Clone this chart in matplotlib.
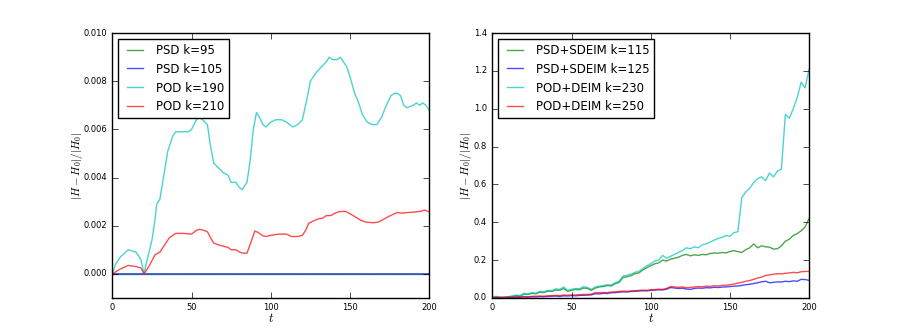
import numpy as np
import matplotlib

matplotlib.use("Agg")
import matplotlib.pyplot as plt

plt.style.use("classic")

# ---- left panel: PSD / POD ----
t_psd = [0, 20, 40, 60, 80, 100, 120, 140, 160, 180, 200]
psd95 = [0, 0, 0, 0, 0, 0, 0, 0, 0, 0, 0]
psd105 = [0, 0, -1e-6, 0, -1e-6, 0, -1e-6, 0, -1e-6, 0, -1e-6]

t_pod190 = [0, 2, 5, 10, 15, 18, 20, 22, 25, 27, 28, 30, 33, 35, 38, 40, 45,
            48, 50, 53, 55, 57, 60, 62, 64, 67, 70, 73, 75, 78, 80, 82, 85,
            87, 89, 91, 93, 95, 97, 100, 103, 107, 110, 112, 114, 117, 120,
            123, 125, 128, 132, 135, 137, 139, 142, 144, 146, 148, 150, 153,
            155, 158, 161, 164, 167, 170, 173, 176, 178, 180, 182, 184, 186,
            190, 192, 194, 196, 198, 200]
pod190 = [0, 0.0004, 0.0007, 0.0010, 0.0009, 0.0006, 0.0000, 0.0006, 0.0014,
          0.0023, 0.0029, 0.0031, 0.0043, 0.0051, 0.0057, 0.0059, 0.0059,
          0.0059, 0.0060, 0.0064, 0.0065, 0.0064, 0.0062, 0.0053, 0.0046,
          0.0044, 0.0042, 0.0041, 0.0038, 0.0038, 0.0036, 0.0035, 0.0038,
          0.0047, 0.0060, 0.0067, 0.0065, 0.0062, 0.0061, 0.0063, 0.0064,
          0.0064, 0.0063, 0.0062, 0.0061, 0.0062, 0.0064, 0.0073, 0.0080,
          0.0083, 0.0086, 0.0088, 0.0090, 0.0089, 0.0089, 0.0090, 0.0088,
          0.0086, 0.0082, 0.0075, 0.0072, 0.0066, 0.0063, 0.0062, 0.0062,
          0.0065, 0.0070, 0.0074, 0.0075, 0.0075, 0.0074, 0.0070, 0.0069,
          0.0070, 0.0071, 0.0070, 0.0071, 0.0070, 0.0068]

t_pod210 = [0, 5, 10, 15, 18, 20, 23, 27, 30, 33, 36, 40, 45, 50, 53, 55, 58,
            60, 62, 64, 67, 70, 73, 75, 78, 80, 82, 85, 88, 90, 92, 95, 97,
            100, 105, 110, 113, 117, 120, 122, 124, 127, 130, 133, 135, 138,
            140, 143, 147, 150, 153, 157, 160, 165, 168, 170, 175, 180, 183,
            187, 190, 195, 197, 200]
pod210 = [0, 0.00020, 0.00035, 0.00030, 0.00025, 0.0, 0.00030, 0.00080,
          0.00090, 0.00120, 0.00150, 0.00168, 0.00168, 0.00165, 0.00180,
          0.00185, 0.00180, 0.00175, 0.00150, 0.00128, 0.00120, 0.00115,
          0.00110, 0.00100, 0.00100, 0.00092, 0.00086, 0.00086, 0.00140,
          0.00178, 0.00172, 0.00158, 0.00155, 0.00160, 0.00165, 0.00165,
          0.00155, 0.00155, 0.00160, 0.00180, 0.00210, 0.00220, 0.00228,
          0.00232, 0.00242, 0.00242, 0.00250, 0.00258, 0.00260, 0.00250,
          0.00238, 0.00222, 0.00215, 0.00212, 0.00215, 0.00222, 0.00240,
          0.00255, 0.00252, 0.00255, 0.00256, 0.00260, 0.00265, 0.00258]

# ---- right panel: hyper-reduced models ----
t_hr = list(np.arange(0, 200.1, 2.5))
sdeim115 = [0.003, 0.006, 0.003, 0.002, 0.005, 0.008, 0.012, 0.010, 0.020,
            0.018, 0.024, 0.022, 0.030, 0.028, 0.036, 0.034, 0.042, 0.040,
            0.050, 0.035, 0.040, 0.045, 0.043, 0.052, 0.050, 0.040, 0.052,
            0.058, 0.060, 0.065, 0.063, 0.075, 0.082, 0.108, 0.112, 0.118,
            0.128, 0.132, 0.148, 0.160, 0.170, 0.180, 0.185, 0.200, 0.195,
            0.205, 0.210, 0.215, 0.225, 0.230, 0.222, 0.228, 0.225, 0.230,
            0.228, 0.235, 0.238, 0.236, 0.240, 0.238, 0.245, 0.250, 0.245,
            0.240, 0.255, 0.265, 0.285, 0.265, 0.275, 0.270, 0.268, 0.258,
            0.260, 0.275, 0.300, 0.310, 0.330, 0.340, 0.355, 0.375, 0.420]
sdeim125 = [0.000, 0.002, 0.001, 0.002, 0.003, 0.002, 0.004, 0.003, 0.005,
            0.004, 0.006, 0.005, 0.007, 0.006, 0.008, 0.009, 0.010, 0.008,
            0.011, 0.010, 0.012, 0.011, 0.013, 0.014, 0.015, 0.016, 0.022,
            0.021, 0.024, 0.023, 0.027, 0.028, 0.030, 0.032, 0.031, 0.034,
            0.035, 0.036, 0.038, 0.037, 0.040, 0.041, 0.043, 0.042, 0.046,
            0.055, 0.052, 0.050, 0.051, 0.047, 0.045, 0.050, 0.052, 0.051,
            0.054, 0.053, 0.056, 0.055, 0.057, 0.058, 0.060, 0.062, 0.063,
            0.066, 0.070, 0.072, 0.076, 0.080, 0.085, 0.088, 0.080, 0.082,
            0.085, 0.084, 0.088, 0.086, 0.090, 0.088, 0.098, 0.097, 0.093]
deim230 = [0.005, 0.008, 0.004, 0.003, 0.006, 0.010, 0.015, 0.012, 0.025,
           0.020, 0.028, 0.024, 0.035, 0.032, 0.040, 0.038, 0.048, 0.045,
           0.058, 0.040, 0.045, 0.050, 0.048, 0.060, 0.055, 0.045, 0.058,
           0.062, 0.065, 0.070, 0.068, 0.080, 0.088, 0.115, 0.120, 0.125,
           0.135, 0.140, 0.155, 0.170, 0.180, 0.195, 0.200, 0.225, 0.210,
           0.220, 0.230, 0.240, 0.250, 0.265, 0.260, 0.270, 0.265, 0.280,
           0.285, 0.295, 0.305, 0.315, 0.320, 0.330, 0.325, 0.345, 0.350,
           0.530, 0.560, 0.580, 0.610, 0.630, 0.640, 0.620, 0.660, 0.640,
           0.670, 0.680, 0.970, 0.950, 1.000, 1.060, 1.140, 1.110, 1.210]
deim250 = [0.000, 0.002, 0.002, 0.003, 0.004, 0.003, 0.005, 0.006, 0.007,
           0.006, 0.008, 0.009, 0.010, 0.009, 0.011, 0.012, 0.013, 0.012,
           0.015, 0.014, 0.016, 0.015, 0.017, 0.018, 0.018, 0.020, 0.028,
           0.027, 0.029, 0.028, 0.031, 0.032, 0.034, 0.036, 0.035, 0.037,
           0.038, 0.040, 0.041, 0.040, 0.043, 0.044, 0.046, 0.045, 0.050,
           0.060, 0.058, 0.056, 0.058, 0.054, 0.055, 0.058, 0.060, 0.059,
           0.062, 0.061, 0.064, 0.063, 0.066, 0.067, 0.070, 0.073, 0.078,
           0.082, 0.088, 0.092, 0.098, 0.105, 0.110, 0.118, 0.122, 0.125,
           0.128, 0.127, 0.130, 0.132, 0.135, 0.133, 0.138, 0.140, 0.140]

YLABEL = r"$|H - H_0|/|H_0|$"


def style(ax, ylab_x):
    ax.tick_params(labelsize=6)
    ax.set_xlabel(r"$t$", fontsize=9, labelpad=0)
    ax.set_ylabel(YLABEL, fontsize=8)
    ax.yaxis.set_label_coords(ylab_x, 0.5)
    ax.set_xlim(0, 200)
    ax.legend(loc="upper left", fontsize=8.5, handlelength=2.0)


fig, (ax1, ax2) = plt.subplots(1, 2, figsize=(8.99, 3.31), dpi=100)

ax1.plot(t_psd, psd95, color="g", alpha=0.7, label="PSD k=95")
ax1.plot(t_psd, psd105, color="b", alpha=0.7, label="PSD k=105")
ax1.plot(t_pod190, pod190, color="c", alpha=0.7, label="POD k=190")
ax1.plot(t_pod210, pod210, color="r", alpha=0.7, label="POD k=210")
ax1.set_ylim(-0.001, 0.010)
ax1.set_yticks([0.000, 0.002, 0.004, 0.006, 0.008, 0.010])
style(ax1, -0.088)

ax2.plot(t_hr, sdeim115, color="g", alpha=0.7, label="PSD+SDEIM k=115")
ax2.plot(t_hr, sdeim125, color="b", alpha=0.7, label="PSD+SDEIM k=125")
ax2.plot(t_hr, deim230, color="c", alpha=0.7, label="POD+DEIM k=230")
ax2.plot(t_hr, deim250, color="r", alpha=0.7, label="POD+DEIM k=250")
ax2.set_ylim(0, 1.4)
style(ax2, -0.057)

fig.savefig("out.png", dpi=100)
